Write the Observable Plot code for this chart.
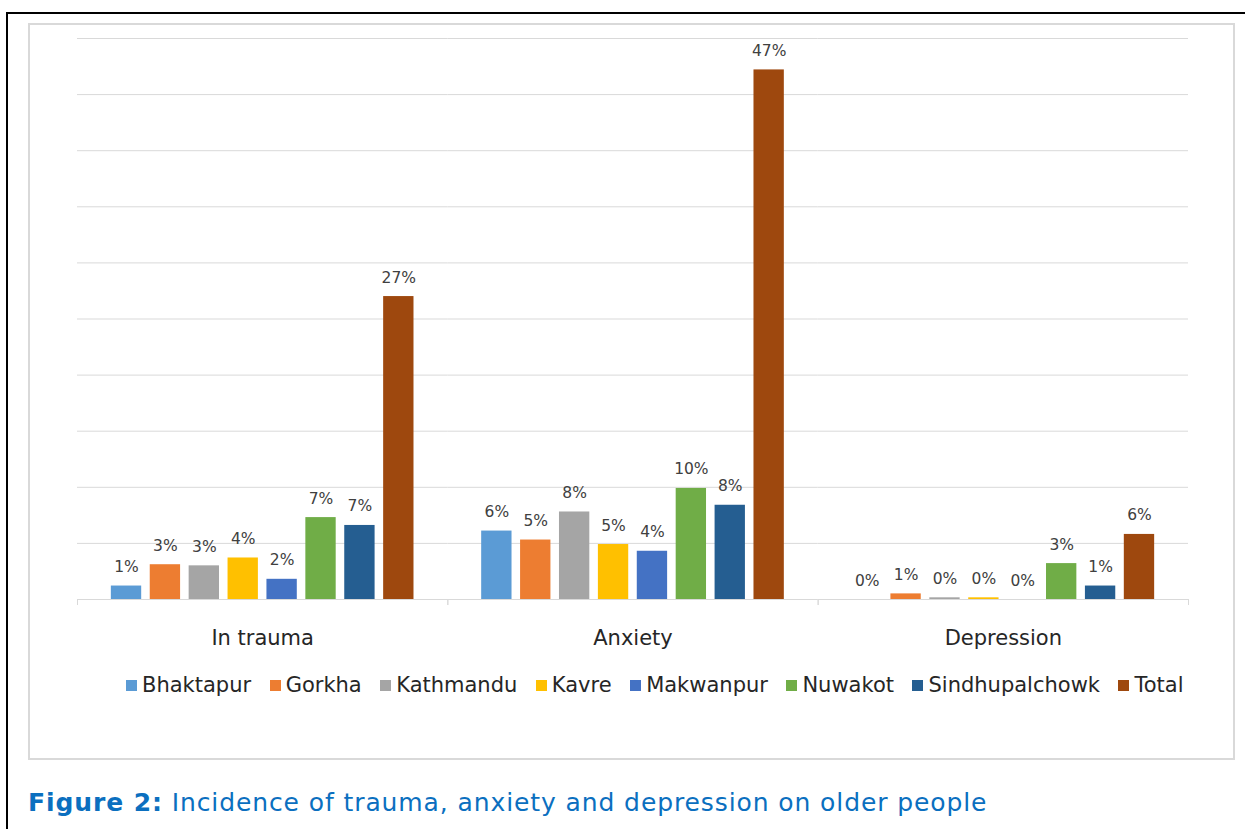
<!DOCTYPE html>
<html>
<head>
<meta charset="utf-8">
<script src="https://cdn.jsdelivr.net/npm/d3@7"></script>
<script src="https://cdn.jsdelivr.net/npm/@observablehq/plot@0.6"></script>
<style>
  body { margin: 0; background: #fff; font-family: "DejaVu Sans", Verdana, sans-serif; }
  #page { position: relative; width: 1245px; height: 829px; overflow: hidden; }
  .outer { position: absolute; left: 6px; top: 12px; width: 1400px; height: 1000px;
           border-left: 2px solid #000; border-top: 2px solid #000; }
  .frame { position: absolute; left: 28px; top: 23px; width: 1207px; height: 737px;
           border: 2px solid #d9d9d9; box-sizing: border-box; }
  #chart { position: absolute; left: 0; top: 0; }
  .legend { position: absolute; left: 126px; top: 673px; display: flex; align-items: center;
            font-size: 21px; color: #262626; white-space: nowrap; }
  .legend .item { display: flex; align-items: center; margin-right: 18.5px; }
  .legend .sw { width: 11px; height: 11px; margin-right: 5px; }
  .caption { position: absolute; left: 28px; top: 788px; font-size: 25px; letter-spacing: 0.9px;
             color: #0b6fbf; white-space: nowrap; }
</style>
</head>
<body>
<div id="page">
  <div class="outer"></div>
  <div class="frame"></div>
  <div id="chart"></div>
  <div class="legend" id="legend"></div>
  <div class="caption"><b>Figure 2:</b> Incidence of trauma, anxiety and depression on older people</div>
</div>
<script>
// Outcome groups along the bottom, districts within each group
const categories = ["In trauma", "Anxiety", "Depression"];
const districts = ["Bhaktapur", "Gorkha", "Kathmandu", "Kavre", "Makwanpur", "Nuwakot", "Sindhupalchowk", "Total"];
const districtColors = ["#5B9BD5", "#ED7D31", "#A5A5A5", "#FFC000", "#4472C4", "#70AD47", "#255E91", "#9E480E"];

// Incidence in percent, one value per district (same order as districts)
const traumaPct     = [1.2, 3.1, 3.0, 3.7, 1.8, 7.3, 6.6, 27.0];
const anxietyPct    = [6.1, 5.3, 7.8, 4.9, 4.3, 9.9, 8.4, 47.2];
const depressionPct = [0.0, 0.5, 0.15, 0.15, 0.0, 3.2, 1.2, 5.8];

// Horizontal gridlines (percent)
const yTicks = [0, 5, 10, 15, 20, 25, 30, 35, 40, 45, 50];

const series = [traumaPct, anxietyPct, depressionPct];
const rows = categories.flatMap((category, ci) =>
  districts.map((district, di) => ({category, district, value: series[ci][di]}))
);

const W = 1245, H = 660;
const mL = 77, mR = 57, mT = 38, mB = 61;
const groupHalf = (W - mL - mR) / categories.length / 2;

const chart = Plot.plot({
  width: W,
  height: H,
  marginLeft: mL,
  marginRight: mR,
  marginTop: mT,
  marginBottom: mB,
  style: {fontFamily: "'DejaVu Sans', Verdana, sans-serif", background: "transparent", overflow: "visible"},
  fx: {domain: categories, padding: 0, round: false, label: null},
  x: {domain: districts, paddingInner: 0.22, paddingOuter: 0.87, round: false, axis: null},
  y: {domain: [0, 50], axis: null},
  color: {domain: districts, range: districtColors},
  marks: [
    Plot.gridY(yTicks, {stroke: "#d9d9d9", strokeOpacity: 1}),
    Plot.barY(rows, {fx: "category", x: "district", y: "value", fill: "district"}),
    Plot.text(rows, {
      fx: "category", x: "district", y: "value",
      text: d => `${Math.round(d.value)}%`,
      lineAnchor: "bottom", dy: -14, fontSize: 15.5, fill: "#404040"
    }),
    // group names
    Plot.axisFx({anchor: "bottom", tickSize: 0, tickPadding: 31, fontSize: 21, fill: "#262626", label: null}),
    // short separators at the group edges
    Plot.axisFx({anchor: "bottom", tickSize: 6, dx: -groupHalf, tickFormat: () => "", stroke: "#d9d9d9", label: null}),
    Plot.axisFx({anchor: "bottom", tickSize: 6, dx: groupHalf, tickFormat: () => "", stroke: "#d9d9d9", label: null})
  ]
});
document.getElementById("chart").append(chart);

// Legend
const legend = document.getElementById("legend");
districts.forEach((name, i) => {
  const item = document.createElement("div");
  item.className = "item";
  const sw = document.createElement("span");
  sw.className = "sw";
  sw.style.background = districtColors[i];
  const label = document.createElement("span");
  label.textContent = name;
  item.append(sw, label);
  legend.append(item);
});
</script>
</body>
</html>
